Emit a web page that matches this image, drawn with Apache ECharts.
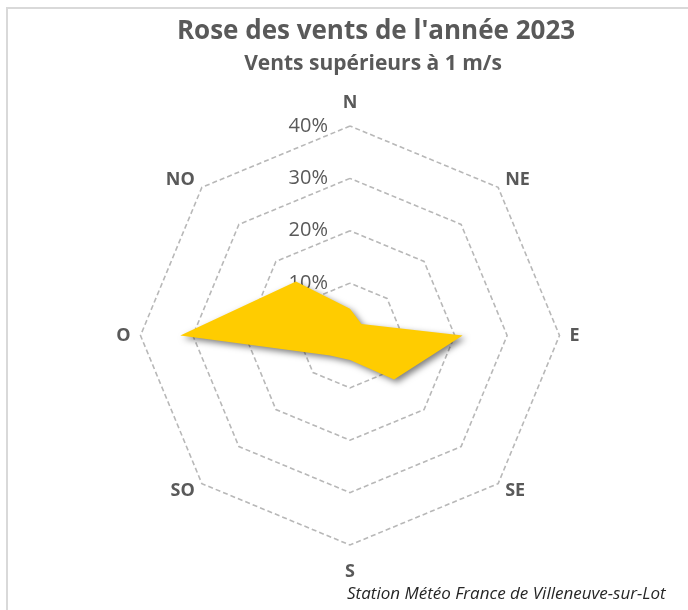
<!DOCTYPE html>
<html>
<head>
<meta charset="utf-8">
<script src="https://cdn.jsdelivr.net/npm/echarts@6/dist/echarts.min.js"></script>
<style>
  html, body { margin: 0; padding: 0; background: #fff; }
  #rose { width: 688px; height: 610px; }
</style>
</head>
<body>
<div id="rose"></div>
<script>
// directions in clockwise order, starting at north
const directions = ['N', 'NE', 'E', 'SE', 'S', 'SO', 'O', 'NO'];
// share of winds > 1 m/s per direction (%)
const frequencies = [5.1, 3.1, 21.5, 11.9, 4.7, 5.4, 32.4, 14.6];
const tickValues = [0, 10, 20, 30, 40];

const titleText = "Rose des vents de l'année 2023";
const subtitleText = 'Vents supérieurs à 1 m/s';
const sourceText = 'Station Météo France de Villeneuve-sur-Lot';

const fontName = '"Open Sans", "Noto Sans", sans-serif';
const textGrey = '#595959';

// echarts lays radar axes counter-clockwise, so walk the compass backwards
const order = [0, 7, 6, 5, 4, 3, 2, 1];

const roseChart = echarts.init(document.getElementById('rose'));

let roseOptions = {
    backgroundColor: '#fff',
    title: [{
        text: titleText,
        left: 371,
        top: 14,
        textAlign: 'center',
        textStyle: { fontFamily: fontName, fontSize: 26, fontWeight: 'bold', color: textGrey }
    }, {
        text: subtitleText,
        left: 368,
        top: 49,
        textAlign: 'center',
        textStyle: { fontFamily: fontName, fontSize: 21, fontWeight: 'bold', color: textGrey }
    }, {
        text: sourceText,
        left: 342,
        top: 581,
        textStyle: { fontFamily: fontName, fontSize: 17, fontStyle: 'italic', fontWeight: 'normal', color: '#262626' }
    }],
    graphic: [{
        type: 'rect',
        silent: true,
        shape: { x: 7, y: 8, width: 720, height: 720 },
        style: { fill: 'none', stroke: '#d9d9d9', lineWidth: 2 }
    }],
    radar: {
        center: [350, 335.5],
        radius: 209.5,
        startAngle: 90,
        splitNumber: tickValues.length - 1,
        shape: 'polygon',
        indicator: order.map(function (i) {
            let ind = { name: directions[i], min: tickValues[0], max: tickValues[tickValues.length - 1] };
            if (i === 0) {
                ind.axisLabel = { show: true };
            }
            return ind;
        }),
        axisName: {
            color: textGrey,
            fontFamily: fontName,
            fontSize: 18,
            fontWeight: 'bold',
            padding: [8, 0, 4, 0]
        },
        nameGap: 10,
        axisLine: { show: false },
        axisTick: { show: false },
        axisLabel: {
            show: false,
            margin: 22,
            formatter: '{value}%',
            color: textGrey,
            fontFamily: fontName,
            fontSize: 20
        },
        splitLine: {
            lineStyle: { color: '#b8b8b8', width: 1.6, type: [5, 3] }
        },
        splitArea: { show: false }
    },
    series: [{
        name: 'Vents',
        type: 'radar',
        symbol: 'none',
        lineStyle: { width: 0 },
        areaStyle: {
            color: '#ffcc00',
            opacity: 1,
            shadowBlur: 6,
            shadowOffsetX: 3,
            shadowOffsetY: 3,
            shadowColor: 'rgba(0, 0, 0, 0.5)'
        },
        data: [{
            name: 'Fréquence',
            value: order.map(function (i) { return frequencies[i]; })
        }]
    }]
};

roseChart.setOption(roseOptions);
</script>
</body>
</html>
